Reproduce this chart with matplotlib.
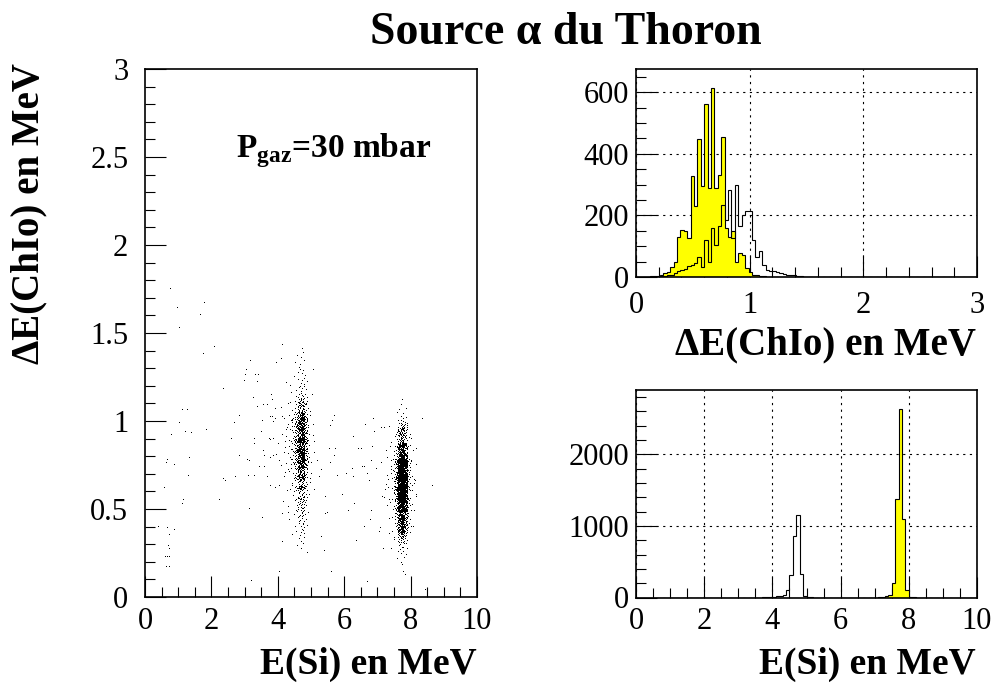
import numpy as np
import matplotlib
matplotlib.use("Agg")
import matplotlib.pyplot as plt
from matplotlib.ticker import MultipleLocator, FuncFormatter

# ---------------------------------------------------------------------------
# Data
# ---------------------------------------------------------------------------
N_BINS = 100

# Delta-E (ionisation chamber) spectra: 100 bins of 30 keV over 0-3 MeV.
de_range = (0.0, 3.0)
# group seen at E(Si) ~ 4.7 MeV (open histogram), bins 0..49
de_counts_low = [0, 0, 0, 0, 0, 0, 0, 2, 4, 6,
                 8, 12, 18, 23, 25, 35, 39, 45, 66, 34,
                 121, 50, 159, 104, 164, 235, 186, 283, 126, 300,
                 164, 202, 213, 215, 121, 66, 83, 39, 23, 20,
                 18, 15, 12, 10, 8, 6, 5, 3, 2, 1]
# group seen at E(Si) ~ 7.7 MeV (yellow histogram), bins 0..49
de_counts_high = [0, 0, 0, 1, 2, 3, 4, 6, 12, 15,
                  34, 50, 131, 151, 148, 126, 327, 229, 447, 295,
                  561, 289, 612, 289, 330, 454, 160, 130, 150, 50,
                  77, 72, 30, 15, 8, 5, 3, 2, 1, 0,
                  0, 0, 0, 0, 0, 0, 0, 0, 0, 0]

# E(Si) spectra: 100 bins of 100 keV over 0-10 MeV (bin index -> counts).
e_range = (0.0, 10.0)
e_bins_low = [37, 38, 39, 40, 41, 42, 43, 44, 45, 46, 47, 48, 49, 50, 51]
e_counts_low = [2, 3, 5, 12, 18, 25, 40, 100, 309, 857, 1152, 333, 20, 8, 4]
e_bins_high = [71, 72, 73, 74, 75, 76, 77, 78, 79, 80, 81]
e_counts_high = [4, 8, 15, 30, 201, 1372, 2628, 1100, 108, 12, 5]

# number of events shown in the scatter for each group
n_events_low = 900
n_events_high = 2000

# isolated events off the two groups: E(Si), Delta-E (MeV)
bg_e = [0.39, 0.57, 0.63, 0.66, 0.86, 0.78, 1.02, 1.12, 1.27, 1.20, 1.40, 1.32,
        1.30, 1.10, 1.14, 0.66, 0.71, 0.88, 0.68, 0.73, 0.60, 0.66, 0.72, 0.62,
        0.73, 1.74, 2.09, 1.83, 2.35, 2.22, 2.35, 2.42, 2.70, 2.68, 2.58, 2.82,
        2.83, 2.97, 3.00, 3.05, 3.17, 3.30, 3.40, 3.38, 3.25, 3.36, 3.27, 3.29,
        3.48, 3.56, 3.66, 3.53, 3.56, 3.57, 3.58, 3.43, 3.07, 3.14, 3.10, 3.27,
        3.53, 3.14, 3.18, 3.75, 3.84, 3.73, 3.86, 3.80, 3.83, 3.92, 3.93, 3.95,
        4.10, 4.13, 3.75, 3.92, 4.12, 4.13, 4.05, 3.77, 3.87, 3.68,
        5.05, 5.17, 5.30, 5.25, 5.41, 5.42, 5.39, 5.30, 5.47, 5.56, 5.56, 5.54,
        5.59, 5.70, 5.62, 5.68, 5.72, 5.78, 5.93, 6.05, 6.10, 6.27, 6.30, 6.24,
        6.25, 6.37, 6.42, 6.50, 6.55, 6.60, 6.63, 6.60, 6.70, 6.75, 6.80, 6.69,
        6.86, 6.89, 6.83, 6.96, 6.80, 6.78, 7.10, 7.20, 7.17, 7.06, 7.09, 7.25,
        7.30, 7.15, 7.22, 7.40, 7.35, 7.40,
        8.17, 8.16, 8.33, 8.63, 8.09, 8.43, 8.00, 8.04, 8.09,
        0.75, 0.95, 1.78, 1.66, 1.02,
        4.25, 4.32, 4.38, 4.28, 4.35, 4.42, 4.30, 4.40, 4.36, 4.22,
        4.95, 5.00, 4.98, 5.08, 4.93, 5.02, 4.96, 5.05, 4.92, 5.10,
        7.35, 7.42, 7.38, 7.45, 7.32, 7.48, 8.05, 8.12, 8.02, 8.08, 8.15, 8.03]
bg_de = [0.40, 0.62, 0.76, 0.78, 0.75, 0.92, 0.99, 1.06, 1.06, 0.94, 0.93, 0.79,
         0.69, 0.53, 0.55, 0.39, 0.35, 0.38, 0.29, 0.27, 0.23, 0.23, 0.23, 0.17,
         0.17, 1.38, 1.42, 0.95, 1.18, 0.55, 0.67, 0.66, 0.68, 0.99, 0.90, 1.03,
         0.80, 1.23, 1.26, 1.29, 1.34, 1.26, 1.26, 1.22, 1.13, 1.08, 0.90, 0.87,
         0.94, 1.09, 1.09, 1.00, 0.83, 0.80, 0.74, 0.74, 0.78, 0.77, 0.69, 0.69,
         0.45, 0.50, 0.09, 1.02, 1.02, 0.90, 0.90, 1.15, 1.12, 1.07, 1.01, 1.33,
         1.35, 1.43, 0.63, 0.62, 0.47, 0.31, 0.14, 0.79, 0.80, 0.68,
         1.29, 0.77, 0.72, 0.68, 0.57, 0.47, 0.26, 0.34, 0.48, 0.76, 0.97, 0.84,
         0.14, 1.03, 1.00, 0.80, 0.84, 0.69, 0.58, 0.70, 0.49, 0.91, 0.53, 0.73,
         0.68, 0.32, 0.84, 0.84, 0.74, 0.40, 0.98, 0.74, 0.70, 0.66, 0.77, 0.085,
         1.01, 0.94, 0.85, 0.73, 0.49, 0.44, 0.96, 0.96, 0.27, 0.37, 0.39, 0.83,
         0.79, 0.57, 0.61, 0.77, 0.36, 0.27,
         0.84, 0.58, 1.01, 0.63, 0.64, 0.04, 0.77, 0.68, 0.49,
         1.75, 1.64, 1.67, 1.60, 1.53,
         0.95, 0.72, 1.10, 0.60, 0.85, 1.00, 0.48, 0.78, 1.20, 0.88,
         0.92, 0.70, 1.05, 0.82, 0.58, 1.15, 0.65, 0.98, 0.76, 0.88,
         0.55, 0.70, 0.85, 0.45, 0.62, 0.78, 0.52, 0.66, 0.90, 0.40, 0.75, 0.60]


def full_spectrum(bins, counts):
    h = np.zeros(N_BINS)
    h[np.asarray(bins)] = counts
    return h


def quantiles(counts, lo, hi, u):
    """Map fractions u in [0, 1) onto a binned spectrum through its CDF."""
    counts = np.asarray(counts, float)
    edges = np.linspace(lo, hi, len(counts) + 1)
    cdf = np.concatenate([[0.0], np.cumsum(counts)]) / counts.sum()
    return np.interp(u, cdf, edges)


def radical_inverse(idx, base):
    idx = np.asarray(idx).copy()
    out = np.zeros(idx.shape)
    f = 1.0
    while np.any(idx > 0):
        f /= base
        out += f * (idx % base)
        idx //= base
    return out


de_edges = np.linspace(*de_range, N_BINS + 1)
e_edges = np.linspace(*e_range, N_BINS + 1)
de_low = np.concatenate([de_counts_low, np.zeros(N_BINS - len(de_counts_low))])
de_high = np.concatenate([de_counts_high, np.zeros(N_BINS - len(de_counts_high))])
e_low = full_spectrum(e_bins_low, e_counts_low)
e_high = full_spectrum(e_bins_high, e_counts_high)

# scatter events of each group, spread according to the two spectra
idx_low = np.arange(1, n_events_low + 1)
idx_high = np.arange(n_events_low + 1, n_events_low + n_events_high + 1)
sc_low_e = quantiles(e_low, *e_range, radical_inverse(idx_low, 3))
sc_low_de = quantiles(de_low, *de_range, radical_inverse(idx_low, 2))
sc_high_e = quantiles(e_high, *e_range, radical_inverse(idx_high, 3))
sc_high_de = quantiles(de_high, *de_range, radical_inverse(idx_high, 2))

# ---------------------------------------------------------------------------
# Figure
# ---------------------------------------------------------------------------
plt.rcParams['font.family'] = ['Liberation Serif', 'DejaVu Serif']
plt.rcParams['font.size'] = 22
plt.rcParams['mathtext.fontset'] = 'custom'
plt.rcParams['mathtext.rm'] = 'Liberation Serif'
plt.rcParams['mathtext.bf'] = 'Liberation Serif:bold'

W, H = 994, 689
fig = plt.figure(figsize=(W / 100, H / 100), dpi=100)
fig.patch.set_facecolor('white')


def box(x0, y0, x1, y1):
    return [x0 / W, 1 - y1 / H, (x1 - x0) / W, (y1 - y0) / H]


ax_sc = fig.add_axes(box(145, 69, 477, 597))
ax_de = fig.add_axes(box(636, 69, 977, 277))
ax_e = fig.add_axes(box(636, 390, 977, 597.5))

num_fmt = FuncFormatter(lambda v, p: f'{v:g}')
for ax in (ax_sc, ax_de, ax_e):
    for s in ax.spines.values():
        s.set_linewidth(1.2)
    ax.tick_params(which='both', direction='in', top=False, right=False,
                   width=0.8, colors='black')
    ax.tick_params(which='major', length=15, pad=7)
    ax.tick_params(which='minor', length=7.5)
    ax.xaxis.set_major_formatter(num_fmt)
    ax.yaxis.set_major_formatter(num_fmt)

# scatter Delta-E vs E
ax_sc.plot(sc_low_e, sc_low_de, ',', color='black')
ax_sc.plot(sc_high_e, sc_high_de, ',', color='black')
ax_sc.plot(bg_e, bg_de, ',', color='black')
ax_sc.set_xlim(*e_range)
ax_sc.set_ylim(0, 3)
ax_sc.xaxis.set_major_locator(MultipleLocator(2))
ax_sc.xaxis.set_minor_locator(MultipleLocator(0.5))
ax_sc.yaxis.set_major_locator(MultipleLocator(0.5))
ax_sc.yaxis.set_minor_locator(MultipleLocator(0.1))
ax_sc.tick_params(axis='y', pad=12)
ax_sc.text(2.74, 2.5, r'$\mathbf{P}_{\mathbf{gaz}}$=30 mbar', fontsize=24,
           fontweight='bold', va='baseline', ha='left')

grid_style = dict(color='black', linestyle=(0, (2.0, 4.0)), linewidth=0.8)

# Delta-E spectra
ax_de.stairs(de_high, de_edges, fill=True, facecolor='#ffff00',
             edgecolor='black', linewidth=0.8)
ax_de.stairs(de_low, de_edges, color='black', linewidth=0.8)
ax_de.set_xlim(*de_range)
ax_de.set_ylim(0, 675)
ax_de.xaxis.set_major_locator(MultipleLocator(1))
ax_de.xaxis.set_minor_locator(MultipleLocator(0.2))
ax_de.yaxis.set_major_locator(MultipleLocator(200))
ax_de.yaxis.set_minor_locator(MultipleLocator(50))
ax_de.grid(True, which='major', **grid_style)
ax_de.set_axisbelow(True)
ax_de.tick_params(axis='x', pad=10)
ax_de.tick_params(axis='y', pad=5)

# E(Si) spectra
ax_e.stairs(e_high, e_edges, fill=True, facecolor='#ffff00',
            edgecolor='black', linewidth=0.8)
ax_e.stairs(e_low, e_edges, color='black', linewidth=0.8)
ax_e.set_xlim(*e_range)
ax_e.set_ylim(0, 2900)
ax_e.xaxis.set_major_locator(MultipleLocator(2))
ax_e.xaxis.set_minor_locator(MultipleLocator(0.5))
ax_e.yaxis.set_major_locator(MultipleLocator(1000))
ax_e.yaxis.set_minor_locator(MultipleLocator(200))
ax_e.grid(True, which='major', **grid_style)
ax_e.set_axisbelow(True)
ax_e.tick_params(axis='y', pad=5)


def fx(px):
    return px / W


def fy(py):
    return 1 - py / H


de_label_kw = dict(fontsize=28, fontweight='bold', va='baseline')
e_label_kw = dict(fontsize=27, fontweight='bold', va='baseline')
fig.text(fx(566), fy(44), 'Source α du Thoron', ha='center', fontsize=33,
         fontweight='bold', va='baseline')
fig.text(fx(477), fy(674), 'E(Si) en MeV', ha='right', **e_label_kw)
fig.text(fx(976), fy(354), 'ΔE(ChIo) en MeV', ha='right', **de_label_kw)
fig.text(fx(976), fy(674), 'E(Si) en MeV', ha='right', **e_label_kw)
fig.text(fx(38), fy(63), 'ΔE(ChIo) en MeV', ha='right', rotation=90,
         rotation_mode='anchor', **de_label_kw)

fig.savefig('out.png', dpi=100, facecolor='white')
